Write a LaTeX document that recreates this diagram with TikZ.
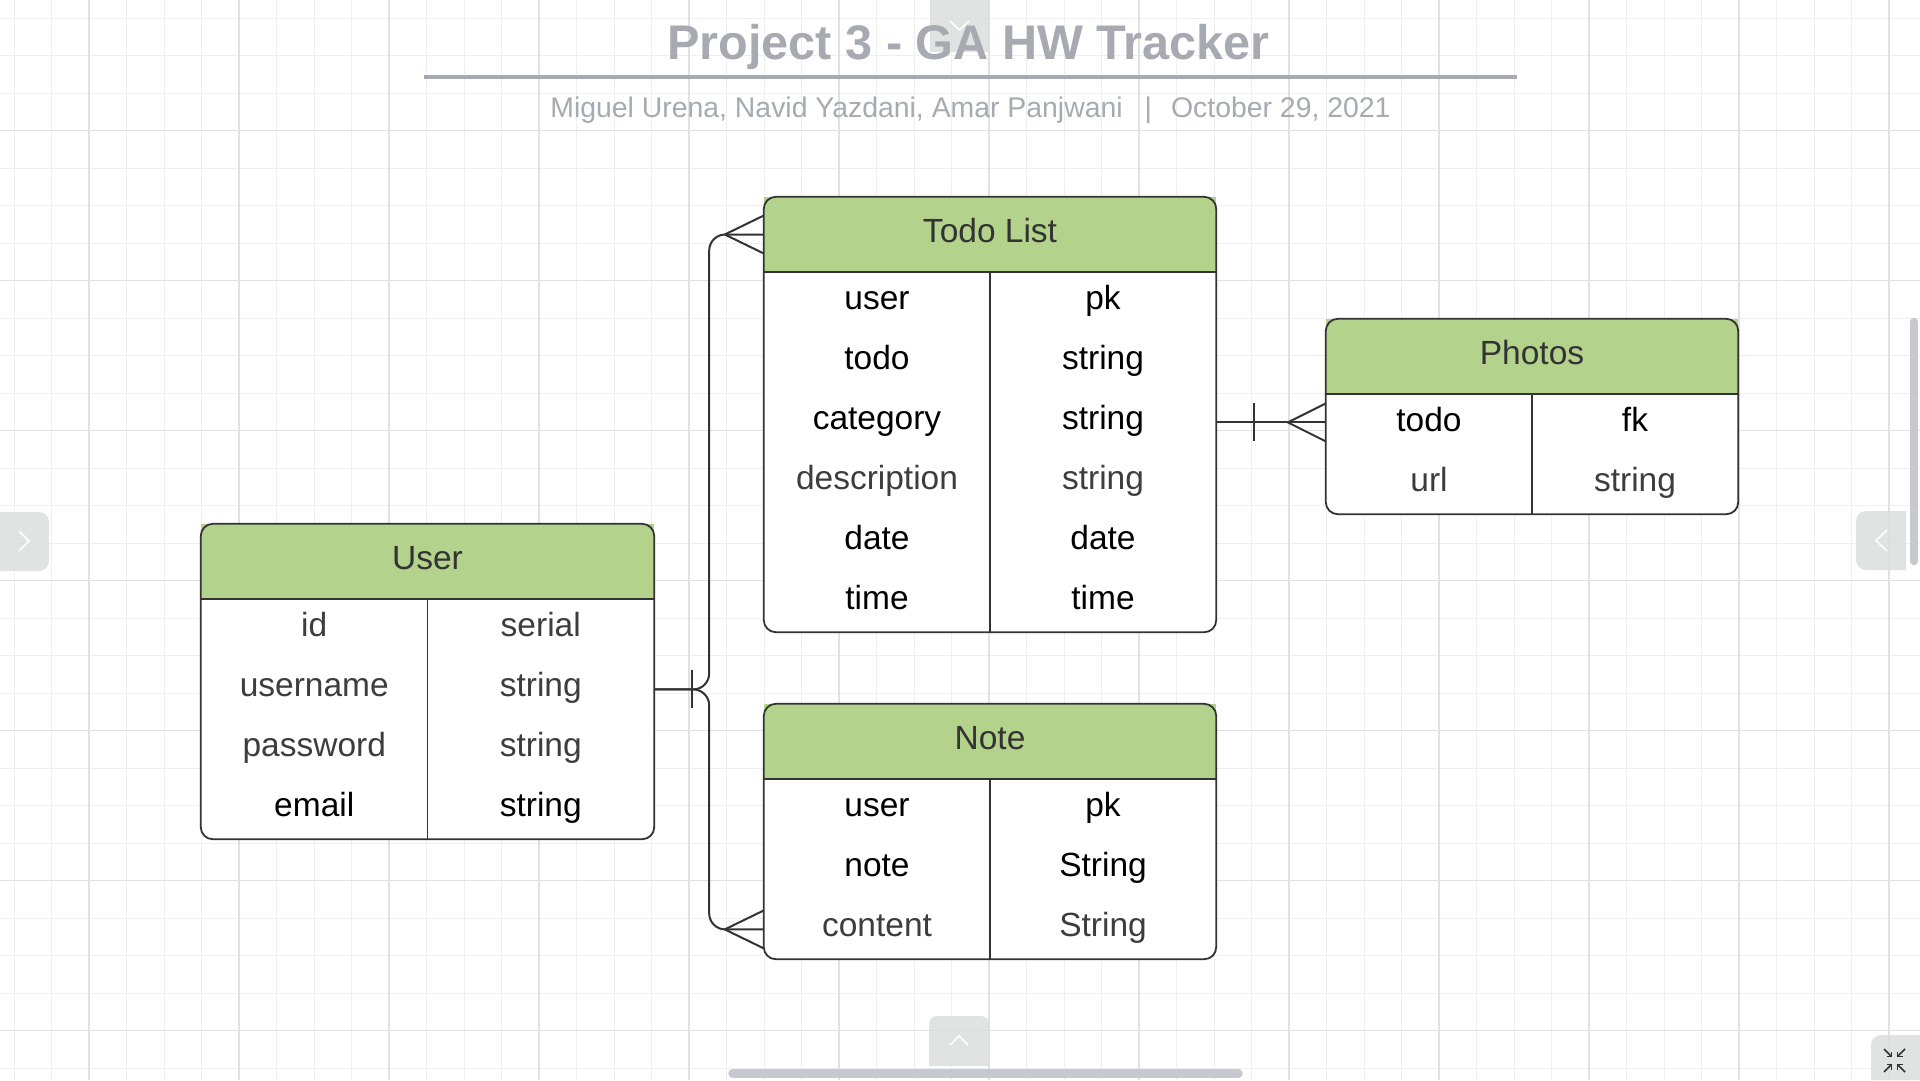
\documentclass[tikz,border=0pt]{standalone}
\usepackage{fontspec}
\setmainfont{Liberation Sans}
\usepackage{xcolor}
\usepackage{tikz}
\usetikzlibrary{matrix, calc}

\definecolor{gridminor}{HTML}{EFEFEF}
\definecolor{gridmajor}{HTML}{E1E1E1}
\definecolor{headgreen}{HTML}{B3D28B}
\definecolor{inkdark}{HTML}{333333}
\definecolor{inksoft}{HTML}{3D3D3D}
\definecolor{titlegray}{HTML}{A8AAB2}
\definecolor{uigray}{HTML}{DCDEDD}
\definecolor{barsgray}{HTML}{C8C9CE}

\tikzset{
  gridline/.style={line width=1pt, draw=gridminor},
  gridlinemajor/.style={line width=1.2pt, draw=gridmajor},
  titletext/.style={anchor=base, text=titlegray, font=\fontsize{48.6pt}{58pt}\selectfont\bfseries},
  subtitletext/.style={anchor=base, text=titlegray, font=\fontsize{28.4pt}{34pt}\selectfont},
  titlerule/.style={draw=titlegray, line width=3.5pt},
  erbox/.style={rectangle, fill=white, inner sep=0pt, rounded corners=12pt},
  erhead/.style={
    rectangle, fill=headgreen, inner sep=0pt, minimum height=75pt,
    text height=24pt, text depth=8pt, text=inkdark,
    font=\fontsize{33.5pt}{40pt}\selectfont
  },
  ercell/.style={
    rectangle, inner sep=0pt, minimum height=60pt,
    text height=24pt, text depth=10pt, text=black,
    font=\fontsize{33.5pt}{40pt}\selectfont
  },
  erbody/.style={matrix of nodes, anchor=north, inner sep=0pt, column sep=0pt, row sep=0pt},
  softtext/.style={text=inksoft},
  erline/.style={draw=inkdark, line width=1.8pt},
  erlink/.style={draw=inkdark, line width=2pt, line join=round},
  uitab/.style={fill=uigray, fill opacity=0.85},
  uichevron/.style={draw=white, line width=1.6pt},
  uiicon/.style={draw=inkdark, line width=1.5pt},
  uibar/.style={draw=barsgray, line width=8.5pt, line cap=round},
}

\begin{document}
\begin{tikzpicture}[x=1pt, y=-1pt]
  \useasboundingbox (0,0) rectangle (1920,1080);
  \fill[white] (0,0) rectangle (1920,1080);

  % === Grid ===
  \foreach \k in {0,...,50} \draw[gridline] ({14+37.5*\k},0) -- ({14+37.5*\k},1080);
  \foreach \k in {0,...,28} \draw[gridline] (0,{18+37.5*\k}) -- (1920,{18+37.5*\k});
  \foreach \k in {0,...,12} \draw[gridlinemajor] ({89+150*\k},0) -- ({89+150*\k},1080);
  \foreach \k in {0,...,6} \draw[gridlinemajor] (0,{130.5+150*\k}) -- (1920,{130.5+150*\k});

  % === Title ===
  \fill[uitab] (930,0) -- (930,52) -- (989,52) -- (989,0) -- cycle;
  \node[titletext] (title) at (968.5, 59) {Project 3 - GA HW Tracker};
  \draw[uichevron] (950,21) -- (959.5,30) -- (969,21);
  \draw[titlerule] (424, 77) -- (1517, 77);
  \node[subtitletext] (byline) at (970.5, 117)
    {Miguel Urena, Navid Yazdani, Amar Panjwani\hspace{22pt}|\hspace{19pt}October 29, 2021};

  % === User ===
  \node[erbox, minimum width=453pt, minimum height=315pt] (user) at (427.5, 681.5) {};
  \node[erhead, minimum width=453pt, anchor=north] (user-head) at (user.north) {User};
  \matrix[erbody, nodes={ercell, minimum width=226.5pt}] (user-rows) at (user-head.south) {
    |[softtext]| id       & |[softtext]| serial \\
    |[softtext]| username & |[softtext]| string \\
    |[softtext]| password & |[softtext]| string \\
    email & string \\
  };
  \draw[erline, rounded corners=12pt] (user.north west) rectangle (user.south east);
  \draw[erline] (user-head.south west) -- (user-head.south east);
  \draw[erline] (user-head.south) -- (user.south);

  % === Todo List ===
  \node[erbox, minimum width=452pt, minimum height=435pt] (todo) at (990, 414.5) {};
  \node[erhead, minimum width=452pt, anchor=north] (todo-head) at (todo.north) {Todo List};
  \matrix[erbody, nodes={ercell, minimum width=226pt}] (todo-rows) at (todo-head.south) {
    user & pk \\
    todo & string \\
    category & string \\
    |[softtext]| description & |[softtext]| string \\
    date & date \\
    time & time \\
  };
  \draw[erline, rounded corners=12pt] (todo.north west) rectangle (todo.south east);
  \draw[erline] (todo-head.south west) -- (todo-head.south east);
  \draw[erline] (todo-head.south) -- (todo.south);

  % === Note ===
  \node[erbox, minimum width=452pt, minimum height=255pt] (note) at (990, 831.5) {};
  \node[erhead, minimum width=452pt, anchor=north] (note-head) at (note.north) {Note};
  \matrix[erbody, nodes={ercell, minimum width=226pt}] (note-rows) at (note-head.south) {
    user & pk \\
    note & String \\
    |[softtext]| content & |[softtext]| String \\
  };
  \draw[erline, rounded corners=12pt] (note.north west) rectangle (note.south east);
  \draw[erline] (note-head.south west) -- (note-head.south east);
  \draw[erline] (note-head.south) -- (note.south);

  % === Photos ===
  \node[erbox, minimum width=412pt, minimum height=195pt] (photos) at (1532, 416.5) {};
  \node[erhead, minimum width=412pt, anchor=north] (photos-head) at (photos.north) {Photos};
  \matrix[erbody, nodes={ercell, minimum width=206pt}] (photos-rows) at (photos-head.south) {
    todo & fk \\
    |[softtext]| url & |[softtext]| string \\
  };
  \draw[erline, rounded corners=12pt] (photos.north west) rectangle (photos.south east);
  \draw[erline] (photos-head.south west) -- (photos-head.south east);
  \draw[erline] (photos-head.south) -- (photos.south);

  % === Relations ===
  \coordinate (fork) at ([xshift=55pt]user-rows-2-2.east);
  \draw[erlink, rounded corners=16pt] (user-rows-2-2.east) -- (fork) |- (todo-head.west);
  \draw[erlink, rounded corners=16pt] (user-rows-2-2.east) -- (fork) |- (note-rows-3-1.west);
  \draw[erlink] ([xshift=38pt, yshift=19pt]user-rows-2-2.east) -- ([xshift=38pt, yshift=-19pt]user-rows-2-2.east);
  \draw[erlink] ([yshift=19pt]todo-head.west) -- ([xshift=-39pt]todo-head.west) -- ([yshift=-19pt]todo-head.west);
  \draw[erlink] ([yshift=19pt]note-rows-3-1.west) -- ([xshift=-39pt]note-rows-3-1.west) -- ([yshift=-19pt]note-rows-3-1.west);

  \coordinate (photos-in) at (todo-rows-3-2.east -| photos.west);
  \draw[erlink] (todo-rows-3-2.east) -- (photos-in);
  \draw[erlink] ([xshift=38pt, yshift=19pt]todo-rows-3-2.east) -- ([xshift=38pt, yshift=-19pt]todo-rows-3-2.east);
  \draw[erlink] ([yshift=19pt]photos-in) -- ([xshift=-38pt]photos-in) -- ([yshift=-19pt]photos-in);

  % === Viewer controls ===
  \fill[uitab] (929,1066) [rounded corners=8pt] -- (929,1016) -- (989,1016) [sharp corners] -- (989,1066) -- cycle;
  \draw[uichevron] (950,1045) -- (959,1036) -- (968,1045);
  \fill[uitab] (0,512) [rounded corners=10pt] -- (49,512) -- (49,571) [sharp corners] -- (0,571) -- cycle;
  \draw[uichevron] (19,531) -- (29,541) -- (19,551);
  \fill[uitab] (1906,511) [rounded corners=10pt] -- (1856,511) -- (1856,570) [sharp corners] -- (1906,570) -- cycle;
  \draw[uichevron] (1887,530) -- (1876,540.5) -- (1887,551);
  \fill[uitab] (1920,1080) -- (1871,1080) [rounded corners=10pt] -- (1871,1035) [sharp corners] -- (1920,1035) -- cycle;
  \foreach \sx/\sy in {-1/-1, 1/-1, -1/1, 1/1} {
    \draw[uiicon] ({1894.5+10.5*\sx},{1060.5+11.5*\sy}) -- ({1894.5+3*\sx},{1060.5+4*\sy});
    \draw[uiicon] ({1894.5+8*\sx},{1060.5+4*\sy}) -- ({1894.5+3*\sx},{1060.5+4*\sy}) -- ({1894.5+3*\sx},{1060.5+9*\sy});
  }
  \draw[uibar] (1914,322) -- (1914,561);
  \draw[uibar] (732.5,1073.5) -- (1238.5,1073.5);
\end{tikzpicture}
\end{document}
